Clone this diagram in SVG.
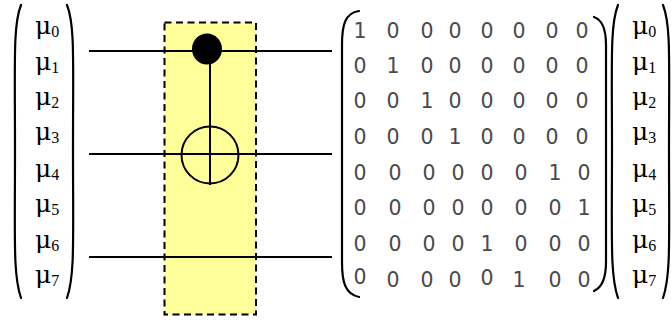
<svg xmlns="http://www.w3.org/2000/svg" width="671" height="322" viewBox="0 0 671 322">
<style>
.m{font-family:"DejaVu Serif",serif;font-size:25px;fill:#000}
.s{font-family:"Liberation Serif",serif;font-size:16px}
.d{font-family:"DejaVu Sans",sans-serif;font-size:20.500px;fill:#4a4a4a;text-anchor:middle}
.w{stroke:#000;stroke-width:2;fill:none}
.b{stroke:#000;stroke-width:2.2;fill:none;stroke-linecap:round}
</style>
<g id="gate-box"><rect x="164.500" y="22.500" width="91.500" height="292" fill="#ffff99" stroke="#000" stroke-width="2" stroke-dasharray="7 4.500"/></g>
<g id="connectors">
<path class="w" d="M89 51H332M89 154H332M89 257H332M210 51V185"/>
</g>
<g id="control"><ellipse cx="207" cy="49" rx="15" ry="15.500" fill="#000"/></g>
<g id="target"><circle cx="210" cy="155" r="28.500" class="w"/></g>
<g id="left-vector">
<path class="b" d="M21 5C13 25 15 60 15 150C15 240 13 275 21 298M67 5C75 25 73 60 73 150C73 240 75 275 67 298"/>
<text class="m" x="35" y="34">μ<tspan class="s" dy="3">0</tspan></text>
<text class="m" x="35" y="70">μ<tspan class="s" dy="3">1</tspan></text>
<text class="m" x="35" y="105">μ<tspan class="s" dy="3">2</tspan></text>
<text class="m" x="35" y="140">μ<tspan class="s" dy="3">3</tspan></text>
<text class="m" x="35" y="177">μ<tspan class="s" dy="3">4</tspan></text>
<text class="m" x="35" y="212">μ<tspan class="s" dy="3">5</tspan></text>
<text class="m" x="35" y="248">μ<tspan class="s" dy="3">6</tspan></text>
<text class="m" x="35" y="283">μ<tspan class="s" dy="3">7</tspan></text>
</g>
<g id="matrix">
<path class="b" d="M359 11C345 13 342 25 342 45V262C342 282 345 294 359 297M594 17C603 20 606 30 606 45V262C606 277 603 287 594 291"/>
<g class="d">
<text x="360" y="38">1</text><text x="393" y="38">0</text><text x="427" y="38">0</text><text x="455" y="38">0</text><text x="487" y="38">0</text><text x="519" y="38">0</text><text x="552" y="38">0</text><text x="582" y="38">0</text>
<text x="360" y="73">0</text><text x="393" y="73">1</text><text x="427" y="73">0</text><text x="455" y="73">0</text><text x="487" y="73">0</text><text x="519" y="73">0</text><text x="552" y="73">0</text><text x="582" y="73">0</text>
<text x="360" y="108">0</text><text x="393" y="108">0</text><text x="427" y="108">1</text><text x="455" y="108">0</text><text x="487" y="108">0</text><text x="519" y="108">0</text><text x="552" y="108">0</text><text x="582" y="108">0</text>
<text x="360" y="144">0</text><text x="393" y="144">0</text><text x="427" y="144">0</text><text x="455" y="144">1</text><text x="487" y="144">0</text><text x="519" y="144">0</text><text x="552" y="144">0</text><text x="582" y="144">0</text>
<text x="360" y="180">0</text><text x="395" y="180">0</text><text x="429" y="180">0</text><text x="458" y="180">0</text><text x="487" y="180">0</text><text x="521" y="180">0</text><text x="555" y="180">1</text><text x="584" y="180">0</text>
<text x="360" y="215">0</text><text x="395" y="215">0</text><text x="429" y="215">0</text><text x="458" y="215">0</text><text x="487" y="215">0</text><text x="521" y="215">0</text><text x="555" y="215">0</text><text x="584" y="215">1</text>
<text x="360" y="251">0</text><text x="395" y="251">0</text><text x="429" y="251">0</text><text x="458" y="251">0</text><text x="487" y="251">1</text><text x="521" y="251">0</text><text x="555" y="251">0</text><text x="584" y="251">0</text>
<text x="360" y="284">0</text><text x="393" y="287">0</text><text x="427" y="287">0</text><text x="455" y="287">0</text><text x="487" y="285">0</text><text x="519" y="287">1</text><text x="555" y="287">0</text><text x="584" y="287">0</text>
</g>
</g>
<g id="right-vector">
<path class="b" d="M618 5C610 25 612 60 612 150C612 240 610 275 618 298M663 5C671 25 669 60 669 150C669 240 671 275 663 298"/>
<text class="m" x="632" y="34">μ<tspan class="s" dy="3">0</tspan></text>
<text class="m" x="632" y="70">μ<tspan class="s" dy="3">1</tspan></text>
<text class="m" x="632" y="105">μ<tspan class="s" dy="3">2</tspan></text>
<text class="m" x="632" y="140">μ<tspan class="s" dy="3">3</tspan></text>
<text class="m" x="632" y="177">μ<tspan class="s" dy="3">4</tspan></text>
<text class="m" x="632" y="212">μ<tspan class="s" dy="3">5</tspan></text>
<text class="m" x="632" y="248">μ<tspan class="s" dy="3">6</tspan></text>
<text class="m" x="632" y="283">μ<tspan class="s" dy="3">7</tspan></text>
</g>
</svg>
